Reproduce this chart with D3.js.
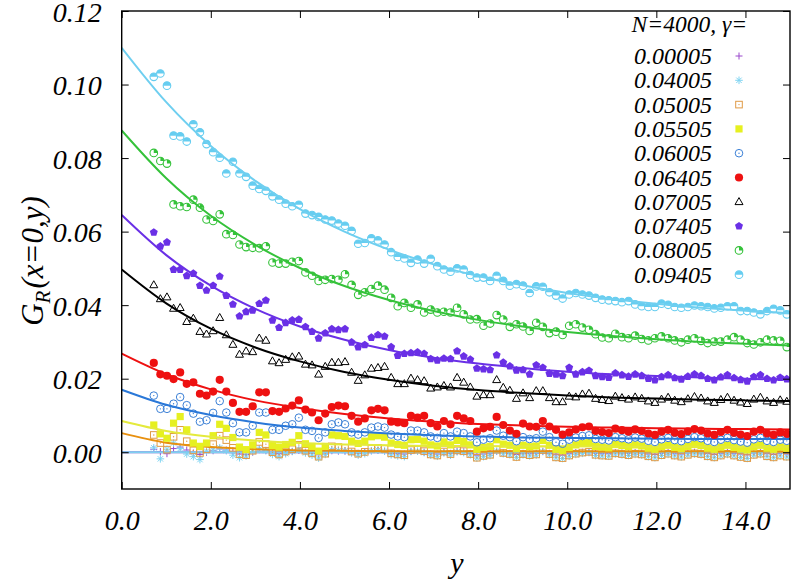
<!DOCTYPE html>
<html><head><meta charset="utf-8">
<script src="https://cdn.jsdelivr.net/npm/d3@7"></script>
<style>
body{margin:0;background:#fff}
text{font-family:"Liberation Serif","DejaVu Serif",serif;font-style:italic;fill:#000}
</style>
</head><body>
<svg id="chart" width="793" height="585"></svg>
<script>
// ---------------- data ----------------
const X0 = 0.72, DX = 0.148;           // sampling of y for the data points
const fitX = [0,1,2,3,4,5,6,7,8,9,10,11,12,13,14,15];
const xTicks = [0,2,4,6,8,10,12,14];
const yTicks = [0,0.02,0.04,0.06,0.08,0.10,0.12];
const gammaLabels = ["0.00005","0.04005","0.05005","0.05505","0.06005","0.06405","0.07005","0.07405","0.08005","0.09405"];

const g00005 = [0.0008,0.0002,-0.0004,0.0010,0.0014,0.0006,-0.0002,-0.0006,0.0000,0.0004,0.0009,0.0006,-0.0001,-0.0005,-0.0006,0.0000,0.0007,0.0005,-0.0002,-0.0004,-0.0001,0.0002,0.0005,0.0000,-0.0003,-0.0007,-0.0002,0.0004,0.0003,0.0003,
0.0000,-0.0003,0.0000,0.0004,0.0005,0.0003,-0.0003,-0.0004,-0.0005,0.0002,0.0002,0.0000,-0.0004,-0.0005,0.0000,-0.0003,0.0002,0.0001,-0.0003,-0.0008,-0.0005,-0.0004,0.0002,-0.0001,-0.0003,-0.0006,-0.0003,-0.0004,-0.0003,0.0002,-0.0003,-0.0007,-0.0008,-0.0004,
-0.0001,0.0000,0.0001,-0.0003,-0.0004,-0.0004,-0.0001,-0.0002,-0.0003,-0.0001,-0.0002,-0.0005,-0.0006,-0.0003,-0.0001,-0.0004,-0.0005,-0.0002,0.0000,-0.0002,-0.0004,-0.0006,-0.0003,-0.0001,-0.0003,-0.0005,-0.0007,-0.0002,-0.0001,-0.0004,-0.0006,-0.0003,-0.0005];
const g04005 = [0.0012,-0.0018,0.0008,0.0025,0.0010,-0.0005,-0.0012,-0.0020,0.0003,0.0006,0.0012,0.0004,-0.0008,-0.0015,-0.0010,0.0002,0.0009,0.0004,-0.0006,-0.0012,-0.0004,0.0002,0.0008,-0.0002,-0.0008,-0.0016,-0.0006,0.0006,0.0005,0.0004,
-0.0002,-0.0008,-0.0004,0.0004,0.0006,0.0003,-0.0007,-0.0010,-0.0012,0.0002,0.0003,-0.0001,-0.0008,-0.0011,-0.0002,-0.0008,0.0001,-0.0001,-0.0007,-0.0016,-0.0012,-0.0009,0.0003,-0.0004,-0.0007,-0.0014,-0.0007,-0.0010,-0.0008,0.0002,-0.0007,-0.0015,-0.0017,-0.0011,
-0.0006,-0.0003,-0.0001,-0.0009,-0.0010,-0.0011,-0.0005,-0.0007,-0.0009,-0.0006,-0.0008,-0.0012,-0.0015,-0.0009,-0.0006,-0.0010,-0.0013,-0.0008,-0.0005,-0.0007,-0.0012,-0.0015,-0.0010,-0.0006,-0.0010,-0.0014,-0.0017,-0.0008,-0.0006,-0.0012,-0.0015,-0.0010,-0.0013];
const g05005 = [0.0047,0.0025,0.0007,0.0042,0.0061,0.0030,0.0005,-0.0002,0.0008,0.0022,0.0045,0.0033,0.0012,-0.0005,-0.0008,0.0004,0.0028,0.0022,0.0000,-0.0006,0.0002,0.0008,0.0020,0.0004,-0.0003,-0.0012,-0.0004,0.0016,0.0014,0.0012,
0.0002,-0.0004,0.0001,0.0010,0.0012,0.0009,-0.0003,-0.0006,-0.0008,0.0006,0.0007,0.0003,-0.0006,-0.0009,0.0002,-0.0005,0.0005,0.0003,-0.0005,-0.0015,-0.0010,-0.0007,0.0007,-0.0002,-0.0005,-0.0013,-0.0005,-0.0008,-0.0006,0.0006,-0.0005,-0.0014,-0.0016,-0.0009,
-0.0004,-0.0001,0.0001,-0.0007,-0.0009,-0.0010,-0.0003,-0.0005,-0.0008,-0.0004,-0.0006,-0.0011,-0.0014,-0.0008,-0.0004,-0.0009,-0.0012,-0.0007,-0.0003,-0.0005,-0.0011,-0.0014,-0.0009,-0.0004,-0.0009,-0.0013,-0.0016,-0.0007,-0.0004,-0.0011,-0.0014,-0.0009,-0.0012];
const g05505 = [0.0074,0.0050,0.0038,0.0079,0.0097,0.0061,0.0025,0.0016,0.0025,0.0045,0.0076,0.0065,0.0040,0.0014,0.0007,0.0020,0.0054,0.0047,0.0018,0.0014,0.0021,0.0027,0.0045,0.0023,0.0016,0.0003,0.0016,0.0047,0.0045,0.0043,
0.0030,0.0024,0.0030,0.0042,0.0045,0.0041,0.0025,0.0021,0.0019,0.0034,0.0035,0.0030,0.0020,0.0017,0.0028,0.0020,0.0032,0.0029,0.0020,0.0008,0.0013,0.0016,0.0034,0.0022,0.0019,0.0010,0.0019,0.0015,0.0017,0.0032,0.0019,0.0008,0.0005,0.0013,
0.0020,0.0024,0.0026,0.0016,0.0014,0.0012,0.0021,0.0018,0.0015,0.0020,0.0017,0.0011,0.0008,0.0015,0.0019,0.0013,0.0010,0.0016,0.0021,0.0018,0.0011,0.0008,0.0014,0.0019,0.0013,0.0009,0.0006,0.0015,0.0019,0.0011,0.0008,0.0014,0.0011];
const g06005 = [0.0154,0.0118,0.0118,0.0132,0.0150,0.0128,0.0105,0.0083,0.0087,0.0107,0.0139,0.0108,0.0079,0.0054,0.0054,0.0072,0.0108,0.0108,0.0061,0.0061,0.0072,0.0076,0.0094,0.0061,0.0058,0.0039,0.0054,0.0076,0.0081,0.0076,
0.0054,0.0048,0.0054,0.0067,0.0070,0.0067,0.0048,0.0043,0.0041,0.0059,0.0059,0.0054,0.0043,0.0039,0.0052,0.0043,0.0056,0.0052,0.0043,0.0027,0.0034,0.0038,0.0059,0.0045,0.0041,0.0030,0.0041,0.0036,0.0038,0.0056,0.0041,0.0027,0.0023,0.0034,
0.0040,0.0044,0.0046,0.0036,0.0034,0.0032,0.0041,0.0038,0.0035,0.0040,0.0037,0.0031,0.0028,0.0035,0.0039,0.0033,0.0030,0.0036,0.0041,0.0038,0.0031,0.0028,0.0034,0.0039,0.0033,0.0029,0.0026,0.0035,0.0039,0.0031,0.0028,0.0034,0.0031];
const g06405 = [0.0243,0.0212,0.0208,0.0199,0.0217,0.0186,0.0190,0.0159,0.0154,0.0165,0.0197,0.0165,0.0134,0.0110,0.0110,0.0125,0.0163,0.0163,0.0112,0.0110,0.0119,0.0127,0.0141,0.0116,0.0108,0.0087,0.0105,0.0123,0.0127,0.0125,
0.0099,0.0083,0.0092,0.0114,0.0118,0.0114,0.0083,0.0081,0.0079,0.0099,0.0094,0.0099,0.0079,0.0070,0.0085,0.0076,0.0099,0.0092,0.0085,0.0056,0.0065,0.0069,0.0096,0.0074,0.0059,0.0050,0.0078,0.0070,0.0069,0.0085,0.0070,0.0061,0.0048,0.0054,
0.0062,0.0068,0.0070,0.0058,0.0055,0.0052,0.0064,0.0060,0.0056,0.0062,0.0058,0.0051,0.0047,0.0056,0.0061,0.0053,0.0049,0.0057,0.0063,0.0059,0.0051,0.0047,0.0055,0.0061,0.0053,0.0048,0.0044,0.0056,0.0061,0.0051,0.0047,0.0054,0.0050];
const g07005 = [0.0455,0.0417,0.0422,0.0391,0.0393,0.0355,0.0364,0.0328,0.0321,0.0330,0.0366,0.0319,0.0293,0.0266,0.0275,0.0273,0.0310,0.0304,0.0248,0.0243,0.0252,0.0259,0.0261,0.0239,0.0237,0.0212,0.0233,0.0244,0.0244,0.0246,
0.0217,0.0195,0.0210,0.0228,0.0230,0.0233,0.0203,0.0186,0.0186,0.0201,0.0197,0.0194,0.0174,0.0177,0.0181,0.0177,0.0203,0.0190,0.0177,0.0152,0.0156,0.0156,0.0197,0.0176,0.0168,0.0146,0.0161,0.0148,0.0167,0.0167,0.0148,0.0137,0.0137,0.0152,
0.0150,0.0158,0.0160,0.0146,0.0143,0.0140,0.0152,0.0148,0.0144,0.0150,0.0146,0.0139,0.0135,0.0144,0.0149,0.0141,0.0137,0.0145,0.0151,0.0147,0.0139,0.0135,0.0143,0.0149,0.0141,0.0136,0.0132,0.0144,0.0149,0.0139,0.0135,0.0142,0.0138];
const g07405 = [0.0598,0.0560,0.0571,0.0497,0.0497,0.0480,0.0486,0.0453,0.0440,0.0453,0.0478,0.0426,0.0402,0.0370,0.0382,0.0386,0.0404,0.0413,0.0359,0.0339,0.0352,0.0359,0.0361,0.0341,0.0328,0.0310,0.0324,0.0335,0.0333,0.0335,
0.0299,0.0286,0.0292,0.0312,0.0319,0.0315,0.0286,0.0263,0.0268,0.0270,0.0272,0.0268,0.0254,0.0250,0.0255,0.0254,0.0275,0.0261,0.0252,0.0228,0.0226,0.0224,0.0264,0.0244,0.0234,0.0223,0.0224,0.0212,0.0237,0.0230,0.0214,0.0212,0.0208,0.0230,
0.0212,0.0218,0.0222,0.0208,0.0205,0.0203,0.0215,0.0210,0.0206,0.0212,0.0208,0.0200,0.0196,0.0205,0.0210,0.0202,0.0198,0.0206,0.0212,0.0208,0.0200,0.0196,0.0204,0.0210,0.0202,0.0197,0.0193,0.0205,0.0210,0.0200,0.0196,0.0203,0.0199];
const g08005 = [0.0814,0.0792,0.0785,0.0674,0.0669,0.0667,0.0687,0.0665,0.0633,0.0629,0.0647,0.0593,0.0591,0.0565,0.0558,0.0556,0.0555,0.0560,
0.0516,0.0513,0.0513,0.0518,0.0520,0.0489,0.0480,0.0466,0.0469,0.0471,0.0469,0.0484,0.0455,
0.0428,0.0435,0.0444,0.0453,0.0442,0.0420,
0.0397,0.0406,0.0393,0.0402,0.0380,0.0388,0.0380,0.0382,0.0380,0.0393,0.0375,0.0361,0.0362,0.0344,0.0350,0.0373,0.0361,0.0341,0.0348,0.0342,0.0330,0.0352,0.0341,0.0324,0.0328,0.0319,0.0344,
0.0348,0.0339,0.0333,0.0321,0.0312,0.0310,0.0322,0.0313,0.0310,0.0317,0.0308,0.0304,0.0310,0.0315,0.0310,0.0304,0.0299,0.0306,0.0310,0.0303,0.0297,0.0301,0.0301,0.0306,0.0313,0.0306,0.0297,0.0293,0.0299,0.0306,0.0304,0.0303,0.0286];
const g09405 = [0.1021,0.1030,0.0997,0.0861,0.0859,0.0845,0.0892,0.0870,0.0838,0.0816,0.0801,0.0758,0.0790,0.0758,0.0749,0.0725,0.0716,0.0711,0.0696,0.0687,0.0676,0.0669,0.0673,0.0649,0.0645,
0.0640,0.0633,0.0630,0.0622,
0.0616,0.0602,0.0567,0.0569,0.0582,0.0576,0.0565,0.0544,0.0531,0.0527,0.0515,0.0524,0.0513,0.0526,0.0506,0.0497,0.0491,0.0500,0.0497,0.0482,0.0475,0.0475,0.0466,0.0480,0.0466,0.0453,0.0457,0.0453,0.0433,0.0451,0.0450,0.0435,0.0426,0.0418,0.0429,
0.0433,0.0429,0.0426,0.0420,0.0415,0.0413,0.0411,0.0408,0.0411,0.0402,0.0397,0.0395,0.0395,0.0404,0.0401,0.0395,0.0393,0.0395,0.0399,0.0397,0.0395,0.0391,0.0393,0.0397,0.0397,0.0384,0.0384,0.0380,0.0375,0.0384,0.0390,0.0386,0.0375];

// fitted curves sampled at fitX
const fit00005 = [0,0,0,0,0,0,0,0,0,0,0,0,0,0,0,0];
const fit04005 = [0,0,0,0,0,0,0,0,0,0,0,0,0,0,0,0];
const fit05005 = [0.0052,0.0026,0.0014,0.0008,0.0005,0.0004,0.0003,0.0003,0.0003,0.0003,0.0003,0.0003,0.0003,0.0003,0.0003,0.0003];
const fit05505 = [0.0085,0.0058,0.0042,0.0032,0.0025,0.0021,0.0019,0.0017,0.0017,0.0016,0.0016,0.0015,0.0015,0.0015,0.0015,0.0015];
const fit06005 = [0.0170,0.0129,0.0101,0.0081,0.0067,0.0058,0.0051,0.0046,0.0043,0.0040,0.0039,0.0038,0.0037,0.0036,0.0036,0.0036];
const fit06405 = [0.0268,0.0212,0.0171,0.0141,0.0120,0.0104,0.0092,0.0083,0.0077,0.0073,0.0069,0.0067,0.0065,0.0064,0.0063,0.0062];
const fit07005 = [0.0497,0.0405,0.0336,0.0285,0.0247,0.0218,0.0197,0.0181,0.0169,0.0161,0.0154,0.0149,0.0146,0.0143,0.0141,0.0139];
const fit07405 = [0.0645,0.0536,0.0453,0.0390,0.0342,0.0306,0.0278,0.0257,0.0241,0.0229,0.0219,0.0212,0.0207,0.0203,0.0200,0.0197];
const fit08005 = [0.0875,0.0745,0.0643,0.0564,0.0501,0.0452,0.0414,0.0384,0.0360,0.0342,0.0327,0.0316,0.0307,0.0300,0.0295,0.0290];
const fit09405 = [0.1100,0.0952,0.0833,0.0738,0.0661,0.0600,0.0551,0.0511,0.0479,0.0454,0.0433,0.0417,0.0404,0.0393,0.0385,0.0378];

const seriesVals = [g00005,g04005,g05005,g05505,g06005,g06405,g07005,g07405,g08005,g09405];
const seriesFits = [fit00005,fit04005,fit05005,fit05505,fit06005,fit06405,fit07005,fit07405,fit08005,fit09405];
const colors = ["#9a48cc","#7fd4f2","#e09a45","#e6f020","#3b80d6","#ee1111","#000000","#6a30e6","#35c23a","#66cdf0"];
const lineColors = ["#9a48cc","#7fd0f0","#e8900f","#e4ea3c","#2a78d8","#ee1111","#000000","#6a30e6","#35c23a","#6fcff0"];
const symbols = ["plus","star","osqdot","fsq","ocircdot","fcirc","otri","fpent","circq","circh"];

// ---------------- chart ----------------
const L = 121.7, R = 790, T = 11, B = 489;
const svg = d3.select("#chart");
const x = d3.scaleLinear().domain([0,15]).range([L,R]);
const y = d3.scaleLinear().domain([-0.01,0.12]).range([B,T]);

svg.append("defs").append("clipPath").attr("id","clip")
  .append("rect").attr("x",L).attr("y",T).attr("width",R-L).attr("height",B-T);

const plot = svg.append("g").attr("clip-path","url(#clip)");

function drawSymbol(g, type, color){
  const r = 3.8;
  switch(type){
    case "plus":
      g.append("path").attr("d","M-3.5,0H3.5M0,-3.5V3.5").attr("stroke",color).attr("stroke-width",1).attr("fill","none"); break;
    case "star":
      g.append("path").attr("d","M-3.8,0H3.8M0,-3.8V3.8M-2.7,-2.7L2.7,2.7M-2.7,2.7L2.7,-2.7").attr("stroke",color).attr("stroke-width",1).attr("fill","none"); break;
    case "osqdot":
      g.append("rect").attr("x",-3.3).attr("y",-3.3).attr("width",6.6).attr("height",6.6).attr("fill","none").attr("stroke",color).attr("stroke-width",1);
      g.append("circle").attr("r",0.7).attr("fill",color); break;
    case "fsq":
      g.append("rect").attr("x",-3.6).attr("y",-3.6).attr("width",7.2).attr("height",7.2).attr("fill",color); break;
    case "ocircdot":
      g.append("circle").attr("r",r).attr("fill","none").attr("stroke",color).attr("stroke-width",1);
      g.append("circle").attr("r",0.7).attr("fill",color); break;
    case "fcirc":
      g.append("circle").attr("r",r+0.3).attr("fill",color); break;
    case "otri":
      g.append("path").attr("d","M0,-4.2L4,2.8H-4Z").attr("fill","none").attr("stroke",color).attr("stroke-width",1); break;
    case "fpent": {
      const pts = d3.range(5).map(k => { const a = -Math.PI/2 + k*2*Math.PI/5; return [4.2*Math.cos(a), 4.2*Math.sin(a)]; });
      g.append("path").attr("d","M"+pts.map(p=>p.join(",")).join("L")+"Z").attr("fill",color); break; }
    case "circq":
      g.append("circle").attr("r",r).attr("fill","#fff").attr("stroke",color).attr("stroke-width",1.1);
      g.append("path").attr("d",`M0,0V${-r}A${r},${r} 0 0 1 ${r},0Z`).attr("fill",color); break;
    case "circh":
      g.append("circle").attr("r",r).attr("fill","#fff").attr("stroke",color).attr("stroke-width",1.1);
      g.append("path").attr("d",`M${-r},0A${r},${r} 0 0 1 ${r},0Z`).attr("fill",color); break;
  }
}

const line = d3.line().x((d,i)=>x(fitX[i])).y(d=>y(d)).curve(d3.curveMonotoneX);

seriesVals.forEach((vals, s) => {
  const gs = plot.append("g");
  gs.selectAll("g.pt").data(vals).join("g").attr("class","pt")
    .attr("transform",(d,i)=>`translate(${x(X0+i*DX)},${y(d)})`)
    .each(function(){ drawSymbol(d3.select(this), symbols[s], colors[s]); });
  gs.append("path").attr("d",line(seriesFits[s])).attr("fill","none")
    .attr("stroke",lineColors[s]).attr("stroke-width",2);
});

// axes (inward ticks on all four sides)
const tickFont = g => g.selectAll("text").attr("font-size",28)
  .style("font-family",'"Liberation Serif",serif').style("font-style","italic");
const yAxis = d3.axisLeft(y).tickValues(yTicks).tickSize(-7).tickPadding(20).tickFormat(d3.format(".2f"));
const gy = svg.append("g").attr("transform",`translate(${L},0)`).call(yAxis);
gy.select(".domain").remove();
gy.call(tickFont);
gy.selectAll("text").attr("dy","0.36em");

const xAxis = d3.axisBottom(x).tickValues(xTicks).tickSize(-7).tickPadding(0).tickFormat(d3.format(".1f"));
const gx = svg.append("g").attr("transform",`translate(0,${B})`).call(xAxis);
gx.select(".domain").remove();
gx.call(tickFont);
gx.selectAll("text").attr("y",41).attr("dy",0);

const gr = svg.append("g").attr("transform",`translate(${R},0)`).call(d3.axisRight(y).tickValues(yTicks).tickSize(-7).tickFormat(""));
gr.select(".domain").remove();
const gt = svg.append("g").attr("transform",`translate(0,${T})`).call(d3.axisTop(x).tickValues(xTicks).tickSize(-7).tickFormat(""));
gt.select(".domain").remove();
svg.selectAll(".tick line").attr("stroke","#000").attr("stroke-width",1);

svg.append("rect").attr("x",L).attr("y",T).attr("width",R-L).attr("height",B-T)
  .attr("fill","none").attr("stroke","#000").attr("stroke-width",1.4);

// axis titles
const yl = svg.append("text").attr("transform","translate(43,261) rotate(-90)")
  .attr("text-anchor","middle").attr("font-size",31);
yl.append("tspan").text("G");
yl.append("tspan").text("R").attr("font-size",21).attr("dy",7);
yl.append("tspan").text("(x=0,y)").attr("dy",-7).attr("dx",2);

svg.append("text").attr("x",457).attr("y",573).attr("text-anchor","middle").attr("font-size",30).text("y");

// legend
const legend = svg.append("g");
legend.append("text").attr("x",747).attr("y",32).attr("text-anchor","end").attr("font-size",23.5).text("N=4000, γ=");
gammaLabels.forEach((lab, s) => {
  const cy = 56 + s*24.3;
  legend.append("text").attr("x",712).attr("y",cy+8).attr("text-anchor","end").attr("font-size",24).text(lab);
  const g = legend.append("g").attr("transform",`translate(739,${cy})`);
  drawSymbol(g, symbols[s], colors[s]);
});
</script>
</body></html>
